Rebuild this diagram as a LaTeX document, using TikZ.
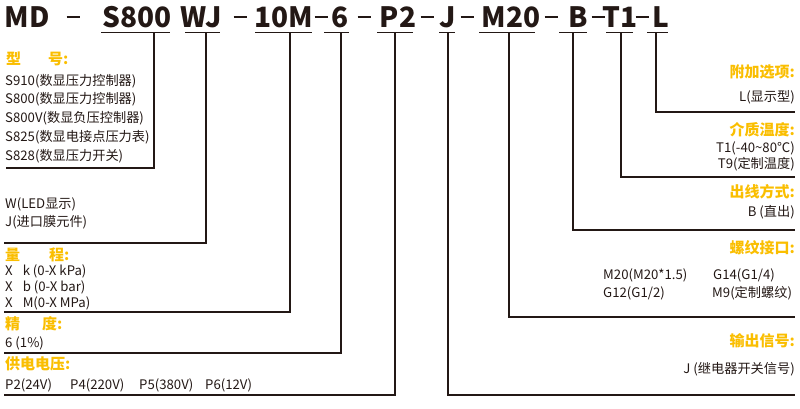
\documentclass[tikz,border=0pt]{standalone}
\usepackage{fontspec}
\setmainfont{Noto Sans CJK SC}
\definecolor{ink}{RGB}{35,24,21}
\definecolor{gold}{RGB}{250,190,0}
\newcommand{\codedash}{\rule{13pt}{2.6pt}}
\tikzset{
  code/.style={font=\fontsize{28}{28}\selectfont\bfseries, text=ink, inner sep=0pt},
  head/.style={font=\fontsize{15}{15}\selectfont\bfseries, text=gold, inner sep=0pt},
  item/.style={font=\fontsize{13.2}{13.2}\selectfont, text=ink, inner sep=0pt},
  lead/.style={draw=ink, line width=1.5pt}
}
\begin{document}
\begin{tikzpicture}[x=1pt, y=-1pt]
\useasboundingbox (0,0) rectangle (800,409);
% model code
\foreach \x/\t [count=\i] in {27/MD, 137/S800, 201/WJ, 284/10M, 340/6, 398/P2,
  448/J, 511/M20, 578/B, 620/T1, 661/L} {
  \node[code, anchor=base] (code \i) at (\x, 27.5) {\t};
}
\foreach \x [count=\i] in {73, 240, 321, 364, 427, 467, 551, 598, 642} {
  \node[code] (dash \i) at (\x, 17) {\codedash};
}
% underlines and leaders
\foreach \n/\xa/\xb/\xv/\yb/\xe in {s800/101/170/154/168/6, wj/185/220/206/243/4, range/255/312/290/312/4,
  acc/324/349/341/353/4, pow/377/413/395/395/4, out/439/455/448/395/795, thr/479/535/509/317/795,
  wire/559/587/573/230/795, temp/606/633/621/177/795, opt/647/668/656/112/795} {
  \coordinate (\n a) at (\xa, 32.5);
  \coordinate (\n b) at (\xb, 32.5);
  \coordinate (\n v) at (\xv, 32.5);
  \coordinate (\n e) at (\xe, \yb);
  \draw[lead] (\n a) -- (\n b);
  \draw[lead] (\n v) |- (\n e);
}

% left side
\node[head, anchor=west] (type) at (6, 59) {型\hspace{27pt}号:};
\foreach \t [count=\i] in {S910(数显压力控制器), S800(数显压力控制器), S800V(数显负压控制器),
  S825(数显电接点压力表), S828(数显压力开关)} {
  \node[item, anchor=west] (type \i) at (5, 62+\i*18.8) {\t};
}
\node[item, anchor=west] (disp 1) at (5, 204) {W(LED显示)};
\node[item, anchor=west] (disp 2) at (5, 222) {J(进口膜元件)};
\node[head, anchor=west] (range) at (5, 255) {量\hspace{29pt}程:};
\node[item, anchor=west] (range 1) at (5, 271) {X\hspace{10pt}k (0-X kPa)};
\node[item, anchor=west] (range 2) at (5, 287) {X\hspace{10pt}b (0-X bar)};
\node[item, anchor=west] (range 3) at (5, 303) {X\hspace{10pt}M(0-X MPa)};
\node[head, anchor=west] (acc) at (5, 324) {精\hspace{22pt}度:};
\node[item, anchor=west] (acc 1) at (5, 343) {6 (1\%)};
\node[head, anchor=west] (pow) at (5, 364) {供电电压:};
\node[item, anchor=west] (pow 1) at (5, 385) {P2(24V)};
\node[item, anchor=west] (pow 2) at (70, 385) {P4(220V)};
\node[item, anchor=west] (pow 3) at (139, 385) {P5(380V)};
\node[item, anchor=west] (pow 4) at (205, 385) {P6(12V)};

% right side
\node[head, anchor=east] (opt) at (795, 72) {附加选项:};
\node[item, anchor=east] (opt 1) at (795, 97) {L(显示型)};
\node[head, anchor=east] (temp) at (795, 130) {介质温度:};
\node[item, anchor=east] (temp 1) at (795, 148) {T1(-40\textasciitilde 80℃)};
\node[item, anchor=east] (temp 2) at (795, 164) {T9(定制温度)};
\node[head, anchor=east] (wire) at (795, 192) {出线方式:};
\node[item, anchor=east] (wire 1) at (795, 212) {B (直出)};
\node[head, anchor=east] (thr) at (795, 248) {螺纹接口:};
\node[item, anchor=west] (thr 1) at (603, 275) {M20(M20*1.5)};
\node[item, anchor=west] (thr 2) at (713, 275) {G14(G1/4)};
\node[item, anchor=west] (thr 3) at (603, 293) {G12(G1/2)};
\node[item, anchor=west] (thr 4) at (712, 293) {M9(定制螺纹)};
\node[head, anchor=east] (out) at (795, 341) {输出信号:};
\node[item, anchor=east] (out 1) at (795, 369) {J (继电器开关信号)};
\end{tikzpicture}
\end{document}
